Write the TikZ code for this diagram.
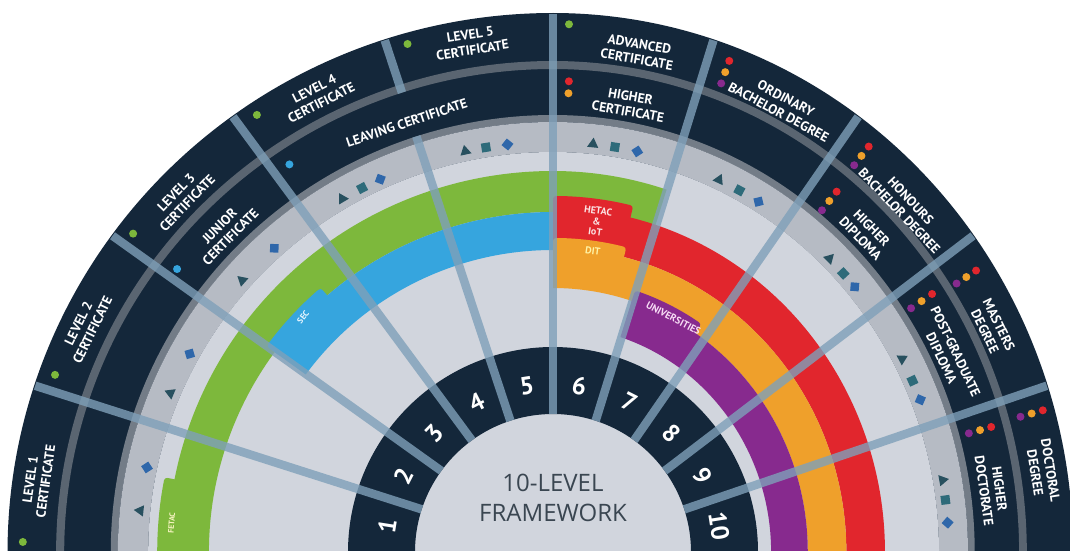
\documentclass[tikz,border=0pt]{standalone}
\usepackage{fontspec}
\setmainfont{PT Sans}
\newfontfamily\titlefont{Open Sans}
\usetikzlibrary{shapes.geometric}
\definecolor{navy}{HTML}{14273A}
\definecolor{sepgray}{HTML}{5A6571}
\definecolor{midgray}{HTML}{737C87}
\definecolor{symband}{HTML}{B6BBC4}
\definecolor{lightarea}{HTML}{D1D5DD}
\definecolor{divcol}{HTML}{7FA0B9}
\definecolor{fgreen}{HTML}{7DB83C}
\definecolor{sblue}{HTML}{36A5DE}
\definecolor{hred}{HTML}{E1262D}
\definecolor{dorange}{HTML}{EFA02B}
\definecolor{upurple}{HTML}{872A8E}
\definecolor{tricol}{HTML}{28505F}
\definecolor{sqcol}{HTML}{2E6B7A}
\definecolor{diacol}{HTML}{2F67AA}
\definecolor{titlecol}{HTML}{3A4651}
\definecolor{paleyellow}{HTML}{F5F3C0}
\definecolor{palepink}{HTML}{FBE3E3}
\definecolor{palelilac}{HTML}{F7DCF5}
\definecolor{dityellow}{HTML}{FFF3A6}
\definecolor{paleblue}{HTML}{E8F6FF}
\newcommand{\annsec}[4]{(#3:#2) arc[start angle=#3, end angle=#4, radius=#2] -- (#4:#1) arc[start angle=#4, end angle=#3, radius=#1] -- cycle}
\newcommand{\piesec}[3]{(#2:#1) arc[start angle=#2, end angle=#3, radius=#1] -- (0,0) -- cycle}
\tikzset{
  lvlab/.style={text=white, font=\bfseries\fontsize{13.5}{15.5}\selectfont, align=center, inner sep=0pt},
  bandlab/.style={font=\bfseries\fontsize{9.5}{10.5}\selectfont, align=center, inner sep=0pt},
  numlab/.style={text=white, font=\bfseries\fontsize{25}{25}\selectfont, inner sep=0pt},
  awdot/.style={circle, minimum size=8pt, inner sep=0pt},
  divline/.style={draw=divcol, line width=8.5pt, opacity=0.8},
  trisym/.style={regular polygon, regular polygon sides=3, minimum size=13pt, inner sep=0pt, fill=tricol},
  sqsym/.style={rectangle, minimum size=9pt, inner sep=0pt, fill=sqcol},
  diasym/.style={rectangle, minimum size=8.5pt, inner sep=0pt, fill=diacol},
  leftside/.style={shift={(553,-552)}, xscale=1.012},
  rightside/.style={shift={(553,-552)}, xscale=0.965},
  core/.style={shift={(553,-552)}}
}
\begin{document}
\begin{tikzpicture}[x=1pt, y=1pt]
\useasboundingbox (0,-551) rectangle (1070,0);
\fill[white] (0,-551) rectangle (1070,0);
\clip (0,-551) rectangle (1070,0);

% ---------- left half (levels 1-5)
\begin{scope}[leftside]
  \fill[navy] \piesec{539}{90}{182};
  \fill[sepgray] \annsec{483}{491}{90}{182};
  \fill[midgray] \annsec{430}{437}{90}{182};
  \fill[symband] \annsec{400}{430}{90}{182};
  \fill[lightarea] \piesec{400}{90}{182};
  \fill[fgreen] \annsec{340}{381}{90}{182};
  \fill[fgreen, rounded corners=3pt] \annsec{372}{391}{169}{184};
  \fill[sblue] \annsec{302}{340}{90}{144};
  \fill[sblue, rounded corners=3pt] \annsec{332}{350}{131}{144};
\end{scope}

% ---------- right half (levels 6-10)
\begin{scope}[rightside]
  \fill[navy] \piesec{539}{-2}{90};
  \fill[sepgray] \annsec{483}{491}{-2}{90};
  \fill[midgray] \annsec{430}{437}{-2}{90};
  \fill[symband] \annsec{400}{430}{-2}{90};
  \fill[lightarea] \piesec{400}{-2}{90};
  \fill[fgreen] \annsec{340}{381}{72}{90};
  \fill[hred] \annsec{304}{344}{-2}{90};
  \fill[hred, rounded corners=3pt] \annsec{338}{356}{76.5}{90};
  \fill[dorange] \annsec{264}{304}{-2}{90};
  \fill[dorange, rounded corners=3pt] \annsec{298}{314}{76}{90};
  \fill[upurple] \annsec{226}{264}{-2}{72};
  \fill[upurple, rounded corners=3pt] \annsec{258}{275}{56}{72};
\end{scope}

% ---------- number ring
\begin{scope}[core]
  \fill[navy] \annsec{138}{205}{-2}{182};
  \foreach \a [count=\i] in {162,144,126,108,90,72,54,36,18}
    \coordinate (dvi\i) at (\a:138);
\end{scope}
\begin{scope}[leftside]
  \foreach \a [count=\i] in {162,144,126,108,90}
    \coordinate (dvo\i) at (\a:538);
  \coordinate (dvm4) at (108:437);
  \coordinate (dvn4) at (108:483);
\end{scope}
\begin{scope}[rightside]
  \foreach \a [count=\i from 6] in {72,54,36,18}
    \coordinate (dvo\i) at (\a:538);
\end{scope}

% ---------- dividers
\foreach \i in {1,2,3,5,6,7,8,9}
  \draw[divline] (dvi\i) -- (dvo\i);
\draw[divline] (dvi4) -- (dvm4);
\draw[divline] (dvn4) -- (dvo4);

% ---------- numbers and title
\begin{scope}[core]
  \foreach \k in {1,...,10}
    \node[numlab, rotate={81-18*(\k-1)}] (n\k) at ({171-18*(\k-1)}:168) {\k};
\end{scope}
\node[font=\titlefont\fontsize{24}{30}\selectfont, text=titlecol, align=center, inner sep=0pt] (title) at (553,-498) {10-LEVEL\\FRAMEWORK};

% ---------- left labels, dots, symbols
\begin{scope}[leftside]
  \node[lvlab, rotate=82] (l1) at (172:514) {LEVEL 1\\CERTIFICATE};
  \node[lvlab, rotate=64] (l2) at (154:514) {LEVEL 2\\CERTIFICATE};
  \node[lvlab, rotate=46] (l3) at (136:510) {LEVEL 3\\CERTIFICATE};
  \node[lvlab, rotate=27] (l4) at (117:512) {LEVEL 4\\CERTIFICATE};
  \node[lvlab, rotate=9] (l5) at (99:516) {LEVEL 5\\CERTIFICATE};
  \node[lvlab, rotate=45.3] (jc) at (135.3:456) {JUNIOR\\CERTIFICATE};
  \node[lvlab, rotate=18.6] (lc) at (108.6:453) {LEAVING CERTIFICATE};
  \node[awdot, fill=fgreen] (g1) at (178.9:524) {};
  \node[awdot, fill=fgreen] (g2) at (160.2:523) {};
  \node[awdot, fill=fgreen] (g3) at (142.5:523) {};
  \node[awdot, fill=fgreen] (g4) at (123.8:526) {};
  \node[awdot, fill=fgreen] (g5) at (105.8:528) {};
  \node[awdot, fill=sblue] (bj) at (142.7:467) {};
  \node[awdot, fill=sblue] (bl) at (123.9:467) {};
  \foreach \t/\d [count=\i] in {174.2/168.1, 157.2/151.1, 138.5/132.2} {
    \node[trisym, rotate={\t-90}] (tri\i) at (\t:410) {};
    \node[diasym, rotate={\d-45}] (dia\i) at (\d:410) {};
  }
  \foreach \t/\s/\d [count=\i from 4] in {120.5/117.4/114.6, 102.2/99.3/96.3} {
    \node[trisym, rotate={\t-90}] (tri\i) at (\t:410) {};
    \node[sqsym, rotate={\s-90}] (sq\i) at (\s:410) {};
    \node[diasym, rotate={\d-45}] (dia\i) at (\d:410) {};
  }
  \node[bandlab, text=paleyellow, rotate=86, font=\bfseries\fontsize{8}{9}\selectfont] (fetac) at (175.6:378) {FETAC};
  \node[bandlab, text=paleblue, rotate=52, font=\bfseries\fontsize{8.5}{9}\selectfont] (sec) at (136.4:341) {SEC};
\end{scope}

% ---------- right labels, dots, symbols
\begin{scope}[rightside]
  \node[lvlab, rotate=-10] (l6) at (80:508) {ADVANCED\\CERTIFICATE};
  \node[lvlab, rotate=-28] (l7) at (62:506) {ORDINARY\\BACHELOR DEGREE};
  \node[lvlab, rotate=-46.5] (l8) at (43.5:503) {HONOURS\\BACHELOR DEGREE};
  \node[lvlab, rotate=-63.8] (l9) at (26.2:507) {MASTERS\\DEGREE};
  \node[lvlab, rotate=-81] (l10) at (9:514) {DOCTORAL\\DEGREE};
  \node[lvlab, rotate=-10] (hc) at (80:455) {HIGHER\\CERTIFICATE};
  \node[lvlab, rotate=-45.5] (hd) at (44.5:455) {HIGHER\\DIPLOMA};
  \node[lvlab, rotate=-64.3] (pg) at (25.7:455) {POST-GRADUATE\\DIPLOMA};
  \node[lvlab, rotate=-82.2] (hdoc) at (7.8:459) {HIGHER\\DOCTORATE};
  \node[awdot, fill=fgreen] (g6) at (88.2:528) {};
  \node[awdot, fill=hred] (r7) at (69.6:524) {};
  \node[awdot, fill=dorange] (o7) at (69.6:512) {};
  \node[awdot, fill=upurple] (p7) at (69.6:500) {};
  \node[awdot, fill=hred] (r8) at (51.1:521) {};
  \node[awdot, fill=dorange] (o8) at (51.1:509) {};
  \node[awdot, fill=upurple] (p8) at (51.1:497) {};
  \node[awdot, fill=hred] (r9) at (32.7:521) {};
  \node[awdot, fill=dorange] (o9) at (32.7:509) {};
  \node[awdot, fill=upurple] (p9) at (32.7:497) {};
  \node[awdot, fill=hred] (r10) at (15.6:527) {};
  \node[awdot, fill=dorange] (o10) at (15.6:515) {};
  \node[awdot, fill=upurple] (p10) at (15.6:503) {};
  \node[awdot, fill=hred] (rhc) at (88:471) {};
  \node[awdot, fill=dorange] (ohc) at (88:459) {};
  \node[awdot, fill=hred] (rhd) at (50.8:465) {};
  \node[awdot, fill=dorange] (ohd) at (50.8:453) {};
  \node[awdot, fill=upurple] (phd) at (50.8:441) {};
  \node[awdot, fill=hred] (rpg) at (33.3:470) {};
  \node[awdot, fill=dorange] (opg) at (33.3:457) {};
  \node[awdot, fill=upurple] (ppg) at (33.3:444) {};
  \node[awdot, fill=hred] (rhdo) at (15.4:471) {};
  \node[awdot, fill=dorange] (ohdo) at (15.4:459) {};
  \node[awdot, fill=upurple] (phdo) at (15.4:447) {};
  \foreach \t/\s/\d [count=\i from 6] in {84.2/81/77.7, 65.2/61.9/58.7, 45.7/42.8/40.3, 28.1/24.7/21.8, 10.1/7.3/4.1} {
    \node[trisym, rotate={\t-90}] (tri\i) at (\t:410) {};
    \node[sqsym, rotate={\s-90}] (sq\i) at (\s:410) {};
    \node[diasym, rotate={\d-45}] (dia\i) at (\d:410) {};
  }
  \node[bandlab, text=palepink, rotate=-8, font=\bfseries\fontsize{10}{10.5}\selectfont] (hetac) at (82.2:334) {HETAC\\\&\\IoT};
  \node[bandlab, text=dityellow, rotate=-8, font=\bfseries\fontsize{10}{10.5}\selectfont] (dit) at (82.2:304) {DIT};
  \node[bandlab, text=palelilac, rotate=-28, font=\bfseries\fontsize{10}{10.5}\selectfont] (univ) at (61.9:265) {UNIVERSITIES};
\end{scope}
\end{tikzpicture}
\end{document}
